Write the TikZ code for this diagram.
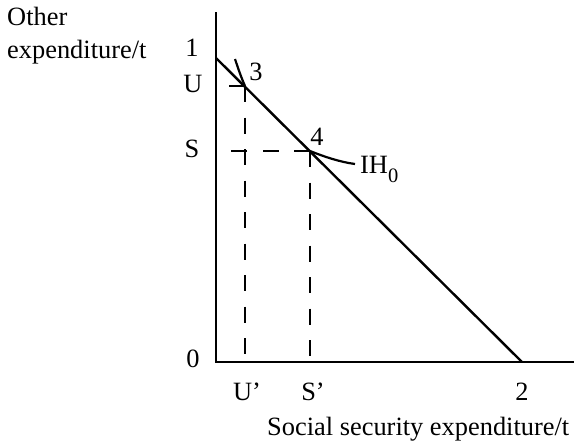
\documentclass[tikz,border=0pt]{standalone}
\usepackage{fontspec}
\setmainfont{Liberation Serif}
\usetikzlibrary{positioning}

\begin{document}
\begin{tikzpicture}[x=1pt, y=-1pt,
		axis/.style={line width=2pt, line cap=butt},
		budget/.style={line width=2.4pt},
		guide/.style={line width=1.8pt, dash pattern=on 16pt off 15.5pt},
		icurve/.style={line width=2.2pt},
		lab/.style={font=\fontsize{26.4}{33}\selectfont, inner sep=0pt}
	]
		\useasboundingbox (0,0) rectangle (574,442);
		% axes
		\coordinate (O) at (216,362);
		\coordinate (ytop) at (216,12);
		\coordinate (xend) at (574,362);
		\draw[axis] (ytop) -- (O) -- (xend);
		% budget line and points
		\coordinate (one) at (216,58);
		\coordinate (two) at (522,362);
		\coordinate (p3) at (245,86);
		\coordinate (p4) at (310,151);
		\draw[budget] (one) -- (two);
		% indifference curve
		\draw[icurve] (235,59) .. controls (238,68) and (241,77) .. (p3);
		\draw[icurve] (p4) .. controls (325,157) and (340,162) .. (355,164);
		% guides
		\coordinate (Ux) at (245,357);
		\coordinate (Sx) at (310,357);
		\coordinate (Uy) at (229,86);
		\coordinate (Sy) at (230,151);
		\foreach \a/\b in {p3/Ux,p4/Sx,p3/Uy,p4/Sy}
			\draw[guide] (\a) -- (\b);
		% labels
		\node[lab, anchor=north west, align=left] (ylab) at (7,7) {Other\\expenditure/t};
		\node[lab] (l1) at (192,48) {1};
		\node[lab] (lU) at (193,84) {U};
		\node[lab] (lS) at (192,149) {S};
		\node[lab] (l3) at (256,72) {3};
		\node[lab] (l4) at (317,137) {4};
		\node[lab] (l0) at (193,359) {0};
		\node[lab] (lUp) at (247,392) {U'};
		\node[lab] (lSp) at (313,392) {S'};
		\node[lab] (l2) at (522,392) {2};
		\node[lab, anchor=base west] (ih) at (360,173) {IH\raisebox{-9pt}{\fontsize{20.5}{22}\selectfont 0}};
		\node[lab, anchor=base west] (xlab) at (267,435) {Social security expenditure/t};
	\end{tikzpicture}
\end{document}
